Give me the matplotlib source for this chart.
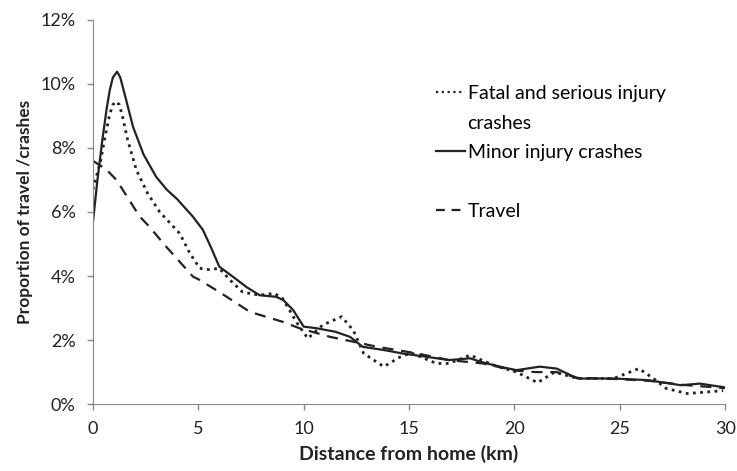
import matplotlib.pyplot as plt
from matplotlib.lines import Line2D
from matplotlib.ticker import PercentFormatter

plt.rcParams["font.family"] = ["Lato", "DejaVu Sans"]

# Minor injury crashes (solid)
minor_x = [0, 0.2, 0.45, 0.65, 0.8, 0.95, 1.15, 1.3, 1.5, 1.9, 2.4, 3.0, 3.5,
           4.0, 4.75, 5.22, 5.6, 6.0, 6.64, 7.3, 7.91, 8.7, 9.03, 9.5, 10.0,
           10.6, 11.5, 12.2, 12.8, 13.8, 14.7, 15.8, 16.9, 17.9, 18.4, 19.3,
           20.1, 21.2, 22.0, 23.0, 24.7, 26.3, 27.9, 28.8, 30]
minor_y = [5.65, 6.9, 8.25, 9.2, 9.8, 10.2, 10.38, 10.2, 9.7, 8.67, 7.8, 7.1,
           6.7, 6.4, 5.85, 5.44, 4.9, 4.29, 3.98, 3.65, 3.4, 3.35, 3.25, 2.94,
           2.42, 2.37, 2.26, 2.1, 1.79, 1.69, 1.58, 1.48, 1.375, 1.43, 1.32,
           1.17, 1.06, 1.17, 1.11, 0.8, 0.8, 0.75, 0.59, 0.64, 0.52]

# Fatal and serious injury crashes (dotted)
fatal_x = [0, 0.37, 0.55, 0.8, 0.95, 1.1, 1.25, 1.4, 1.65, 2.07, 2.6, 3.17,
           4.12, 4.6, 5.07, 5.5, 6.0, 6.5, 7.1, 7.9, 8.6, 9.0, 9.7, 10.2, 10.9,
           11.8, 12.35, 12.85, 13.8, 14.6, 15.1, 16.3, 16.9, 17.9, 19.0, 20.1,
           21.1, 21.9, 23.0, 24.7, 25.9, 26.6, 27.2, 28.2, 29.9]
fatal_y = [6.7, 7.6, 8.25, 9.05, 9.35, 9.45, 9.35, 9.0, 8.25, 7.3, 6.58, 6.0,
           5.33, 4.71, 4.24, 4.2, 4.24, 3.88, 3.5, 3.4, 3.46, 3.3, 2.52, 2.05,
           2.47, 2.73, 2.31, 1.58, 1.17, 1.48, 1.6, 1.27, 1.27, 1.53, 1.22,
           1.0, 0.67, 1.0, 0.8, 0.8, 1.11, 0.8, 0.49, 0.33, 0.42]

# Travel (dashed)
travel_x = [0, 0.3, 0.57, 1.12, 2.23, 2.6, 3.5, 4.75, 5.0, 6.0, 7.45, 9.0,
            9.8, 11.25, 12.35, 13.5, 15.4, 16.9, 18.5, 20, 21, 22, 23, 25,
            26.5, 28, 30]
travel_y = [7.6, 7.47, 7.37, 7.0, 5.85, 5.6, 4.9, 3.98, 3.9, 3.5, 2.88, 2.57,
            2.37, 2.1, 1.95, 1.79, 1.58, 1.375, 1.27, 1.05, 1.0, 1.0, 0.82,
            0.78, 0.72, 0.6, 0.5]

fig = plt.figure(figsize=(7.37, 4.71), dpi=100)
ax = fig.add_axes([0.126, 0.142, 0.858, 0.816])

ax.plot(fatal_x, fatal_y, color="#222222", linestyle=(0, (1, 1.6)), lw=2.0)
ax.plot(minor_x, minor_y, color="#222222", linestyle="-", lw=1.6)
ax.plot(travel_x, travel_y, color="#222222", linestyle=(0, (5, 3.5)), lw=1.6)

ax.set_xlim(0, 30)
ax.set_ylim(0, 12)
ax.set_xticks([0, 5, 10, 15, 20, 25, 30])
ax.set_yticks([0, 2, 4, 6, 8, 10, 12])
ax.yaxis.set_major_formatter(PercentFormatter(decimals=0))
ax.tick_params(labelsize=13, labelcolor="#222222", length=4, width=1,
               color="#888888")
ax.tick_params(axis="x", pad=8)
ax.tick_params(axis="y", pad=8.5)
for s in ["top", "right"]:
    ax.spines[s].set_visible(False)
for s in ["left", "bottom"]:
    ax.spines[s].set_color("#888888")

ax.set_xlabel("Distance from home (km)", fontsize=14, fontweight="bold",
              color="#222222", labelpad=6)
ax.set_ylabel("Proportion of travel /crashes", fontsize=12.5, fontweight="bold",
              color="#222222", labelpad=5)

handles = [
    Line2D([], [], color="#222222", linestyle=(0, (1, 1.6)), lw=1.6),
    Line2D([], [], color="none"),
    Line2D([], [], color="#222222", linestyle="-", lw=1.6),
    Line2D([], [], color="none"),
    Line2D([], [], color="#222222", linestyle=(0, (4, 3)), lw=1.6),
]
labels = ["Fatal and serious injury", "crashes", "Minor injury crashes", "",
          "Travel"]
ax.legend(handles, labels, loc="upper left", bbox_to_anchor=(0.528, 0.855),
          frameon=False, fontsize=14, handlelength=1.45, handletextpad=0.15,
          labelspacing=0.64, borderpad=0)

fig.savefig("out.png", dpi=100)
